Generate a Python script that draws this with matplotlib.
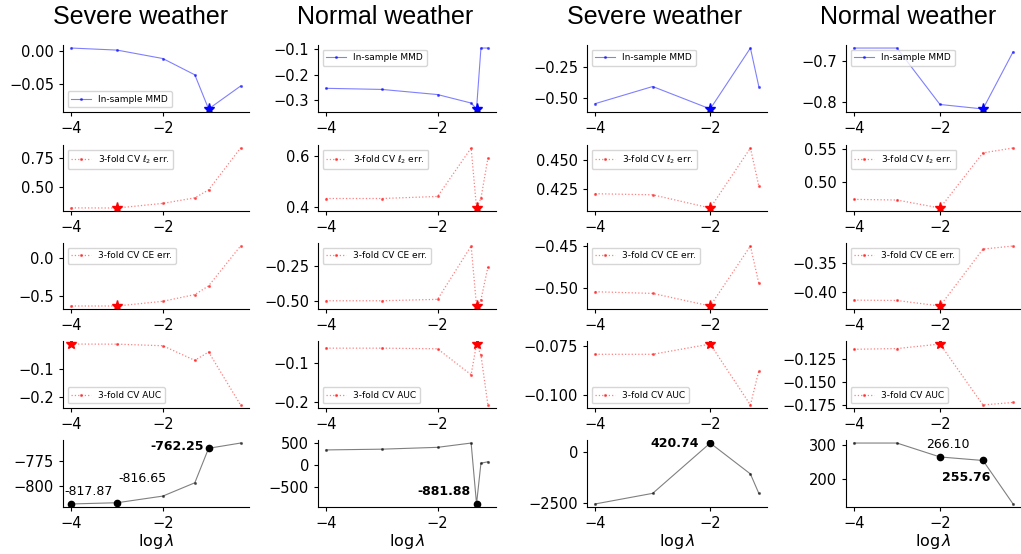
import numpy as np
import matplotlib
matplotlib.use("Agg")
import matplotlib.pyplot as plt

titles = ["Severe weather", "Normal weather", "Severe weather", "Normal weather"]

# column 1
lam_1 = [1e-4, 1e-3, 1e-2, 0.05, 0.1, 0.5]
mmd_1 = [0.0046, 0.0015, -0.0112, -0.0357, -0.087, -0.0526]
l2_1 = [0.316, 0.315, 0.355, 0.403, 0.472, 0.835]
ce_1 = [-0.626, -0.626, -0.565, -0.478, -0.365, 0.152]
auc_1 = [-0.0096, -0.0100, -0.0157, -0.068, -0.038, -0.2275]
ll_1 = [-817.87, -816.65, -810.0, -796.7, -762.25, -757.0]
best_1 = [4, 1, 1, 0]

# column 2
lam_2 = [1e-4, 1e-3, 1e-2, 0.04, 0.05, 0.06, 0.08]
mmd_2 = [-0.2537, -0.258, -0.278, -0.311, -0.334, -0.097, -0.097]
l2_2 = [0.434, 0.434, 0.442, 0.631, 0.397, 0.435, 0.591]
ce_2 = [-0.495, -0.495, -0.485, -0.108, -0.532, -0.488, -0.257]
auc_2 = [-0.0634, -0.0634, -0.065, -0.1305, -0.053, -0.081, -0.207]
ll_2 = [352.0, 369.0, 411.0, 509.0, -881.88, 49.0, 81.0]
best_2 = [4, 4, 4, 4]

# column 3
lam_3 = [1e-4, 1e-3, 1e-2, 0.05, 0.07]
mmd_3 = [-0.545, -0.406, -0.588, -0.094, -0.406]
l2_3 = [0.4214, 0.4205, 0.4093, 0.4602, 0.428]
ce_3 = [-0.505, -0.507, -0.522, -0.4505, -0.495]
auc_3 = [-0.0791, -0.0791, -0.0739, -0.1048, -0.0875]
ll_3 = [-2552.0, -2034.0, 420.74, -1087.0, -2034.0]
best_3 = [2, 2, 2, 2]

# column 4
lam_4 = [1e-4, 1e-3, 1e-2, 0.1, 0.5]
mmd_4 = [-0.6675, -0.6675, -0.806, -0.817, -0.677]
l2_4 = [0.4742, 0.4732, 0.4611, 0.5447, 0.5521]
ce_4 = [-0.4134, -0.414, -0.4233, -0.3273, -0.3221]
auc_4 = [-0.1144, -0.1136, -0.1087, -0.1747, -0.172]
ll_4 = [307.0, 307.0, 266.10, 255.76, 128.0]
best_4 = [3, 2, 2, 2]

labels = ["In-sample MMD", r"3-fold CV $\ell_2$ err.", "3-fold CV CE err.", "3-fold CV AUC"]

W, H = 1021, 554
fig = plt.figure(figsize=(W / 100, H / 100), dpi=100)

cols_px = [(63, 249), (318, 496), (587, 767), (846, 1021)]
rows_px = [(45, 112), (145, 211), (243, 309), (341, 408), (440, 507)]
title_x = [141, 385, 655, 908]

yticks = [
    [[-0.05, 0.0], [0.5, 0.75], [-0.5, 0.0], [-0.2, -0.1], [-800, -775]],
    [[-0.3, -0.2, -0.1], [0.4, 0.6], [-0.5, -0.25], [-0.2, -0.1], [-500, 0, 500]],
    [[-0.5, -0.25], [0.425, 0.45], [-0.5, -0.45], [-0.1, -0.075], [-2500, 0]],
    [[-0.8, -0.7], [0.5, 0.55], [-0.4, -0.35], [-0.175, -0.15, -0.125], [200, 300]],
]
legend_loc = [
    ["lower left", "upper left", "upper left", "lower left"],
    ["upper left", "upper left", "upper left", "lower left"],
    ["upper left", "upper left", "upper left", "lower left"],
    ["upper left", "upper left", "upper left", "lower left"],
]

# (index, bold, offset in points)
notes = [
    [(0, False, (12.6, 8.9)), (1, False, (18.1, 17.8)), (4, True, (-22.9, 1.4))],
    [(4, True, (-23.4, 9.1))],
    [(2, True, (-25.9, 0.0))],
    [(2, False, (5.8, 9.1)), (3, True, (-12.1, -12.2))],
]

columns = [
    (lam_1, [mmd_1, l2_1, ce_1, auc_1], ll_1, best_1),
    (lam_2, [mmd_2, l2_2, ce_2, auc_2], ll_2, best_2),
    (lam_3, [mmd_3, l2_3, ce_3, auc_3], ll_3, best_3),
    (lam_4, [mmd_4, l2_4, ce_4, auc_4], ll_4, best_4),
]

for c, (lam, series, ll, best) in enumerate(columns):
    x = np.log10(lam)
    x0, x1 = cols_px[c]
    fig.text(title_x[c] / W, 1 - 17 / H, titles[c], ha="center", va="center",
             fontsize=18, family="Liberation Sans")
    for r in range(5):
        t, b = rows_px[r]
        ax = fig.add_axes([x0 / W, 1 - b / H, (x1 - x0) / W, (b - t) / H])
        ax.spines["top"].set_visible(False)
        ax.spines["right"].set_visible(False)
        ax.tick_params(labelsize=10.5, length=3)
        if r < 4:
            y = np.array(series[r])
            if r == 0:
                ax.plot(x, y, "b.-", lw=0.8, ms=2.5, alpha=0.5, label=labels[r])
                ax.plot(x[best[r]], y[best[r]], "b*", ms=8)
            else:
                ax.plot(x, y, "r.:", lw=0.9, ms=2.5, alpha=0.5, label=labels[r])
                ax.plot(x[best[r]], y[best[r]], "r*", ms=8)
            ax.legend(loc=legend_loc[c][r], fontsize=6.5, handlelength=2.2)
        else:
            y = np.array(ll)
            ax.plot(x, y, "k.-", lw=0.8, ms=2.5, alpha=0.5)
            for idx, bold, off in notes[c]:
                ax.plot(x[idx], y[idx], "ko", ms=4.5)
                ax.annotate(f"{y[idx]:.2f}", (x[idx], y[idx]), xytext=off,
                            textcoords="offset points", ha="center", va="center",
                            fontsize=9, fontweight="bold" if bold else "normal")
            ax.set_xlabel(r"$\log\lambda$", fontsize=11.5, labelpad=1)
        ax.set_xticks([-4, -2])
        ax.set_yticks(yticks[c][r])

fig.savefig("out.png", dpi=100)
